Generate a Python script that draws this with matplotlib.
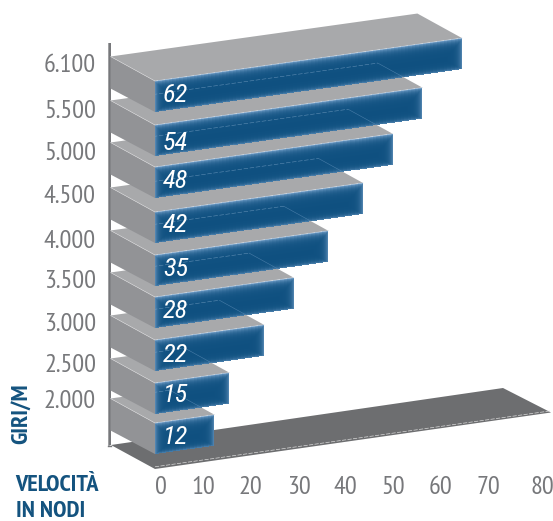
import numpy as np
import matplotlib
matplotlib.use("Agg")
import logging
logging.getLogger("matplotlib.font_manager").setLevel(logging.ERROR)
import matplotlib.pyplot as plt
from matplotlib.patches import Polygon

# data
speeds = [62, 54, 48, 42, 35, 28, 22, 15, 12]
rpm_labels = ["6.100", "5.500", "5.000", "4.500", "4.000", "3.500", "3.000", "2.500", "2.000"]
speed_ticks = [0, 10, 20, 30, 40, 50, 60, 70, 80]
y_title = "GIRI/M"
x_title = ["VELOCITÀ", "IN NODI"]

# layout (pixels)
W, H = 553, 521
bar_top_y = [81, 125, 167, 212, 255, 297, 340, 383, 423]
rpm_label_y = [63, 109, 151, 194, 239, 279, 322, 363, 399]
tick_label_x = [161, 203, 250, 299, 345, 393, 440, 488, 542]
value_label_y = [93, 141, 179, 223, 267, 308, 353, 393, 435]
X0, PX_PER_KNOT, SLOPE = 155, 4.95, 0.14
BAR_H = 31
DX, DY = -44.5, -24.5

LIGHT = ["PT Sans Narrow", "Abel", "Liberation Sans"]
ITAL = ["Roboto Condensed", "Liberation Sans"]
BOLD = ["PT Sans Narrow", "Roboto Condensed", "Liberation Sans"]
GREY_TXT = "#77787b"
BLUE_TXT = "#14537f"
TOP = "#a8a9ab"
SIDE = "#929396"
FLOOR = "#6d6e70"
AXIS = "#77787b"
BLUE = np.array([0x0f, 0x50, 0x80]) / 255
EDGE = np.array([0x7f, 0xa9, 0xd2]) / 255

fig = plt.figure(figsize=(W / 100, H / 100), dpi=100)
ax = fig.add_axes([0, 0, 1, 1])
ax.set_xlim(0, W)
ax.set_ylim(H, 0)
ax.axis("off")


def sx(v):
    return X0 + PX_PER_KNOT * v


# floor
fy = 469
ax.add_patch(Polygon([(111, 445), (sx(0), fy), (sx(80), 412.5), (503, 388)],
                     fc=FLOOR, ec="none", zorder=1))
ax.plot([sx(0), sx(80)], [fy - 2.2, 410.8], color="#d8d8d8", lw=0.5,
        dashes=(6, 2), zorder=1.5)
# vertical axis
ax.add_patch(Polygon([(108.3, 43), (111, 43), (111, 445), (108.3, 446)],
                     fc=AXIS, ec="none", zorder=1.2))
ax.plot([108.3, 111], [446, 446], color=AXIS, lw=1, zorder=1.2)


def front_face(v, ty, z):
    w = PX_PER_KNOT * v
    nx, ny = int(w), BAR_H * 2
    xe = np.linspace(0, w, nx + 1)
    ve = np.linspace(0, BAR_H, ny + 1)
    XX, VV = np.meshgrid(xe, ve)
    YY = ty + VV - SLOPE * XX
    xc = (xe[:-1] + xe[1:]) / 2
    vc = (ve[:-1] + ve[1:]) / 2
    XC, VC = np.meshgrid(xc, vc)
    f = np.maximum.reduce([
        np.exp(-VC / 3.2) * 0.95,
        np.exp(-(BAR_H - VC) / 2.0) * 0.55,
        np.exp(-XC / 3.2) * 0.7,
        np.exp(-(w - XC) / 3.0) * 0.65,
    ])
    C = BLUE[None, None, :] * (1 - f[..., None]) + EDGE[None, None, :] * f[..., None]
    return ax.pcolormesh(X0 + XX, YY, C, shading="flat", zorder=z,
                         antialiased=False, linewidth=0, rasterized=True)


n = len(speeds)
for i in range(n - 1, -1, -1):
    v, ty = speeds[i], bar_top_y[i]
    z = 2 + (n - i)
    xr = sx(v)
    tr = ty - SLOPE * PX_PER_KNOT * v
    by = ty + BAR_H
    ax.add_patch(Polygon([(X0, ty), (X0, by), (X0 + DX, by + DY + 1), (X0 + DX, ty + DY)],
                         fc=SIDE, ec="none", zorder=z))
    ax.add_patch(Polygon([(X0, ty), (xr, tr), (xr + DX, tr + DY), (X0 + DX, ty + DY)],
                         fc=TOP, ec="none", zorder=z))
    ax.plot([X0 + DX, X0], [ty + DY, ty], color="#d5d5d7", lw=0.4, zorder=z + 0.1)
    front_face(v, ty, z + 0.2)
    ax.plot([X0, xr], [ty, tr], color="#c9d6e4", lw=0.5, alpha=0.8, zorder=z + 0.3)
    # hidden edge of the next bar showing through this bar's front
    if i + 1 < n:
        v2, t2 = speeds[i + 1], bar_top_y[i + 1]
        r2 = t2 - SLOPE * PX_PER_KNOT * v2
        face = Polygon([(X0, ty), (xr, tr), (xr, tr + BAR_H), (X0, by)],
                       fc="none", ec="none")
        ax.add_patch(face)
        l1, = ax.plot([X0 + DX, sx(v2) + DX], [t2 + DY, r2 + DY], color="#7fa6c8", lw=0.4,
                      alpha=0.7, dashes=(8, 3), zorder=z + 0.4)
        l2, = ax.plot([sx(v2) + DX, sx(v2)], [r2 + DY, r2], color="#5f8fb8", lw=0.4,
                      alpha=0.7, zorder=z + 0.4)
        l1.set_clip_path(face)
        l2.set_clip_path(face)
    ax.text(X0 + 20.5, value_label_y[i], str(v), color="white", fontsize=19, style="italic",
            family=ITAL, ha="center", va="center_baseline", zorder=30)

for lab, y in zip(rpm_labels, rpm_label_y):
    ax.text(96, y, lab, color=GREY_TXT, fontsize=19, family=LIGHT, ha="right",
            va="center_baseline")
for t, x in zip(speed_ticks, tick_label_x):
    ax.text(x, 485, str(t), color=GREY_TXT, fontsize=19, family=LIGHT, ha="center",
            va="center_baseline")

ax.text(21, 414, y_title, color=BLUE_TXT, fontsize=17.5, fontweight="bold", family=BOLD,
        rotation=90, ha="center", va="center")
ax.text(15, 483, x_title[0], color=BLUE_TXT, fontsize=17.5, fontweight="bold", family=BOLD,
        ha="left", va="center_baseline")
ax.text(16, 509, x_title[1], color=BLUE_TXT, fontsize=17.5, fontweight="bold", family=BOLD,
        ha="left", va="center_baseline")

fig.savefig("out.png", dpi=100)
